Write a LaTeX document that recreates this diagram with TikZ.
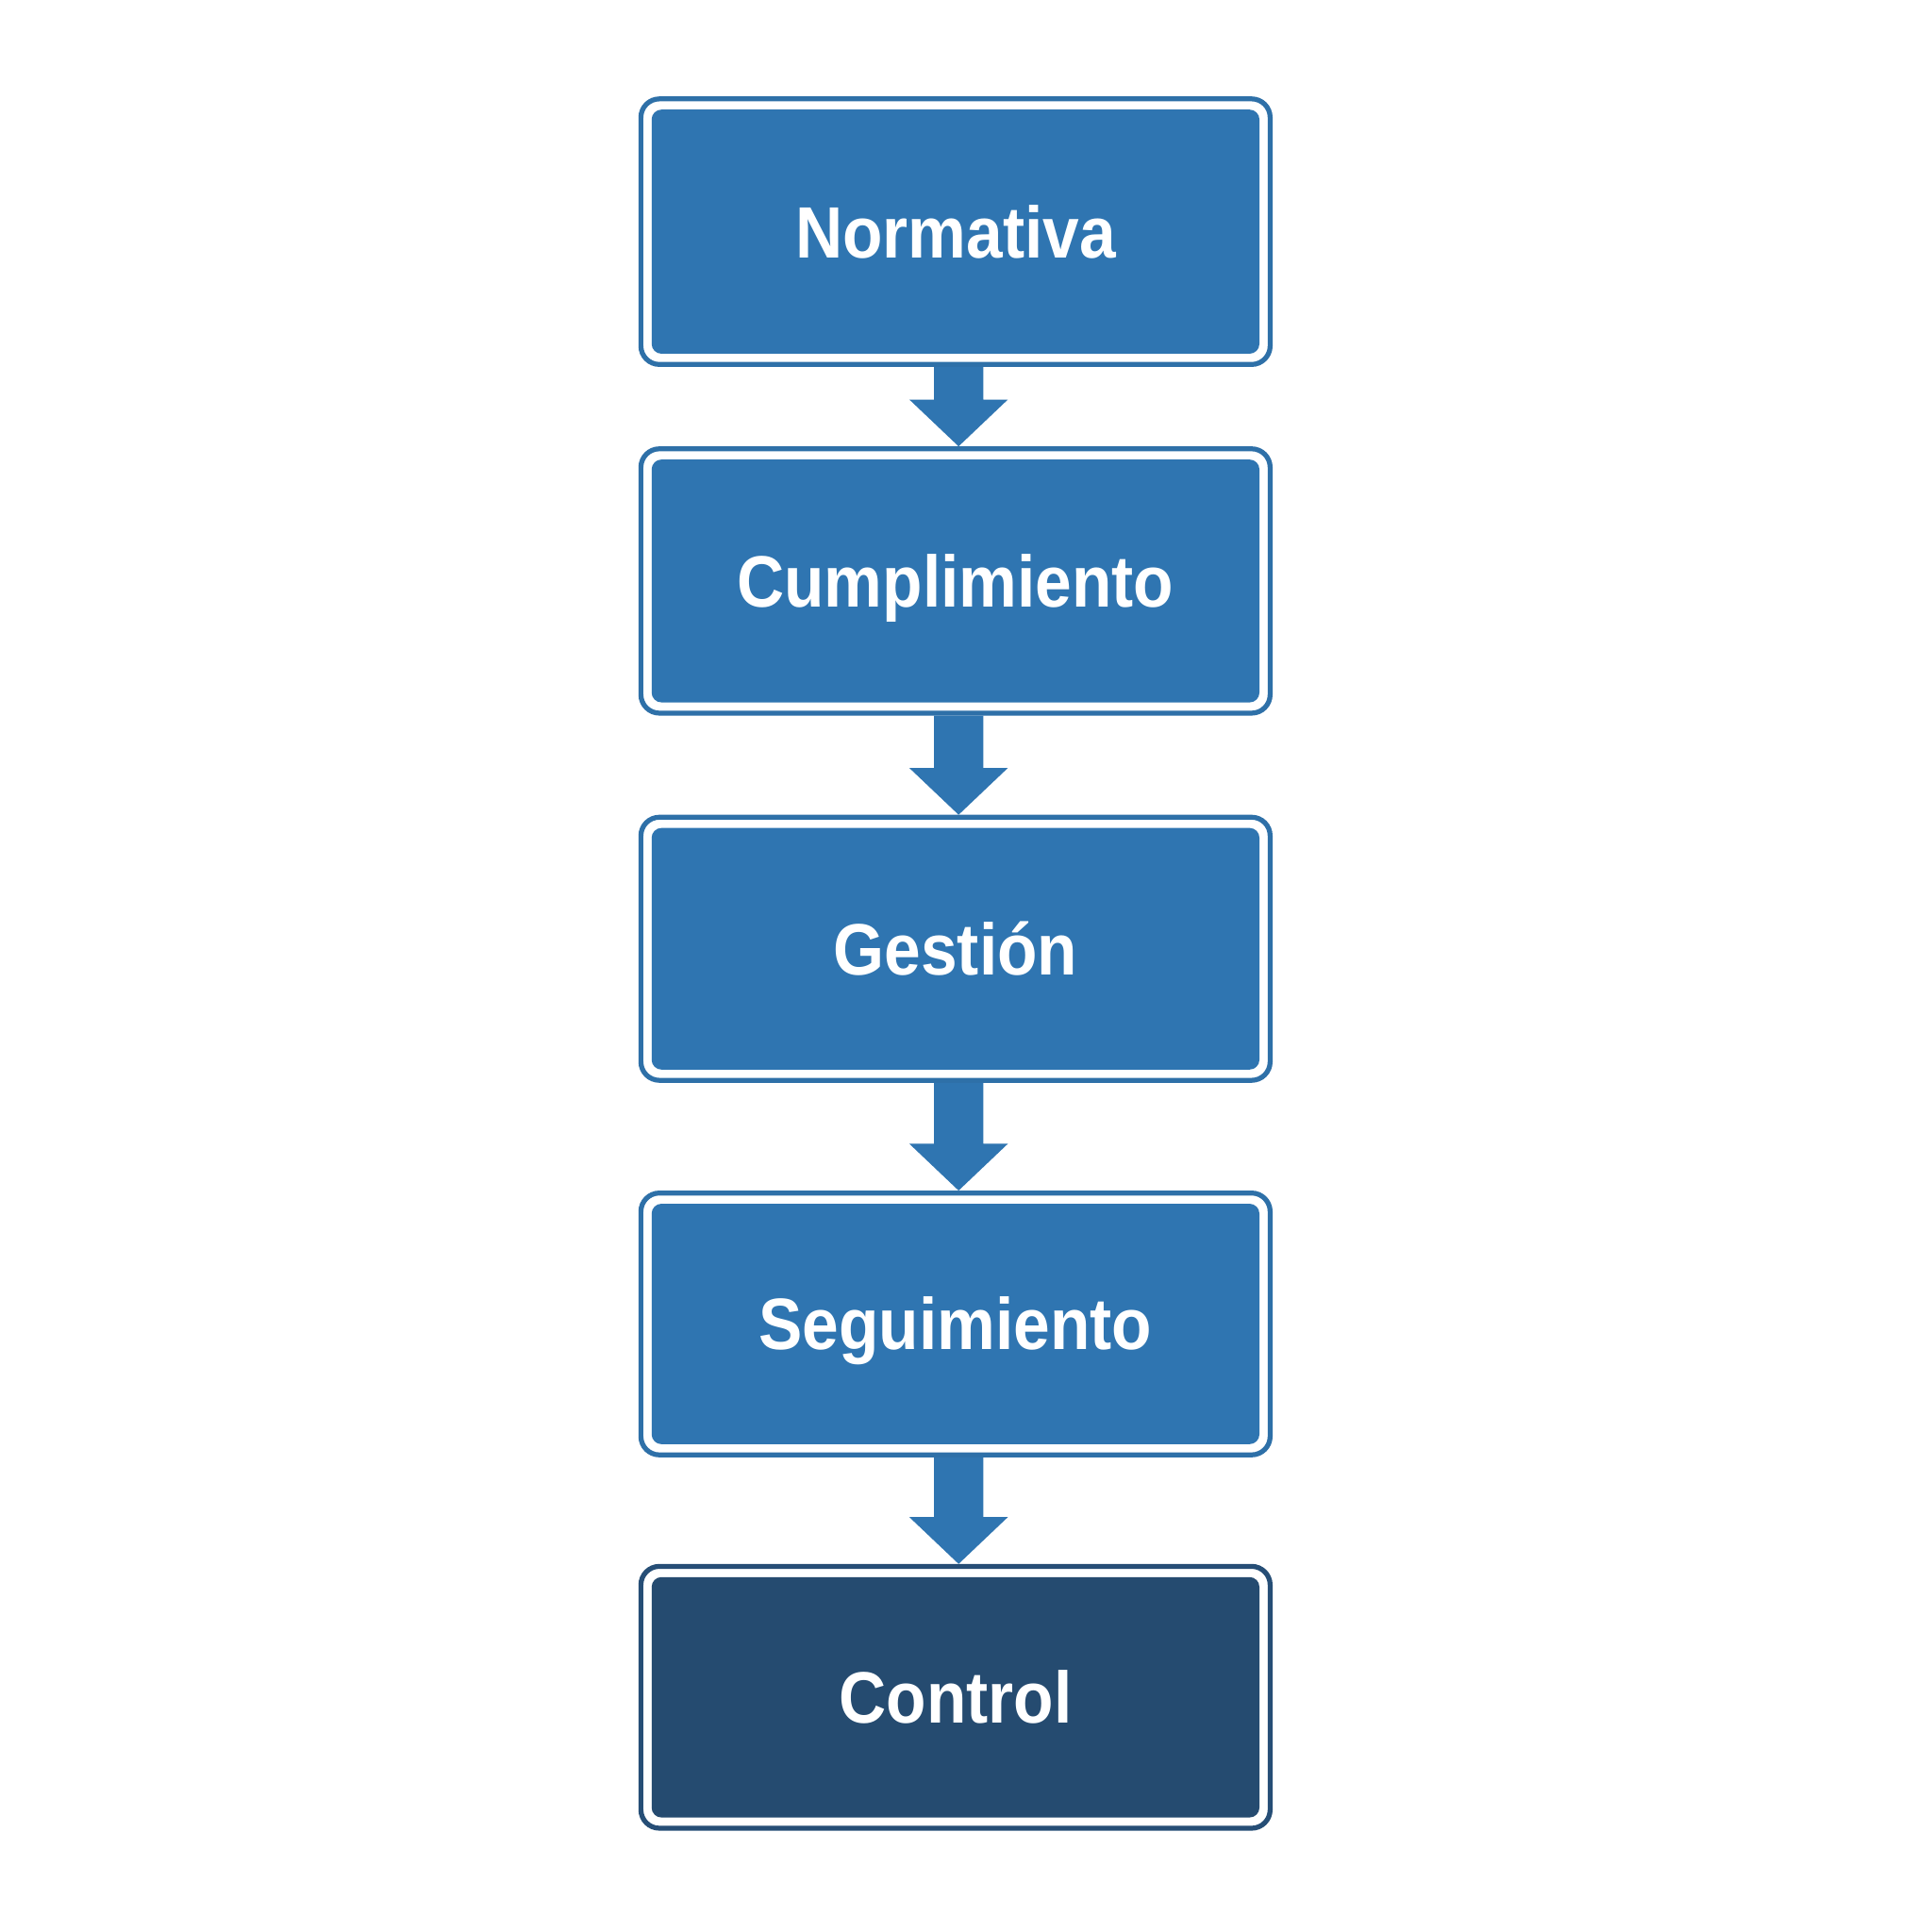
\documentclass[tikz,border=0pt]{standalone}
\usepackage{fontspec}
\setmainfont{Liberation Sans}[FakeStretch=0.9]
\usetikzlibrary{calc}
\definecolor{boxblue}{RGB}{47,117,177}
\definecolor{lineblue}{RGB}{46,112,168}
\definecolor{darkblue}{RGB}{37,75,112}
\definecolor{darkline}{RGB}{38,78,118}
\begin{document}
\begin{tikzpicture}[x=0.01cm,y=-0.01cm,
  stepbox/.style={rectangle, rounded corners=0.08cm, fill=boxblue, text=white,
    minimum width=4.93cm, minimum height=1.96cm, inner sep=0pt,
    text height=0.42cm, text depth=0pt,
    font=\fontsize{16.8}{20}\selectfont\bfseries},
  lastbox/.style={stepbox, fill=darkblue},
  ring/.style={draw=lineblue, line width=0.04cm, rounded corners=0.15cm},
  darkring/.style={ring, draw=darkline},
  flowarrow/.style={fill=boxblue}]
\useasboundingbox (0,0) rectangle (1568,1568);
\fill[white] (0,0) rectangle (1568,1568);

\node[stepbox, minimum height=1.98cm] (n1) at (775.5,188) {Normativa};
\node[stepbox, minimum height=1.97cm] (n2) at (775.5,471.5) {Cumplimiento};
\node[stepbox, minimum height=1.96cm] (n3) at (775.5,770) {Gestión};
\node[stepbox, minimum height=1.95cm] (n4) at (775.5,1074.5) {Seguimiento};
\node[lastbox, minimum height=1.95cm] (n5) at (775.5,1377.5) {Control};

\foreach \n in {n1,n2,n3,n4}{
  \draw[ring] ($(\n.north west)+(-8,-8)$) rectangle ($(\n.south east)+(8,8)$);
}
\draw[darkring] ($(n5.north west)+(-8,-8)$) rectangle ($(n5.south east)+(8,8)$);

\foreach \a/\b in {n1/n2,n2/n3,n3/n4,n4/n5}{
  \coordinate (tip) at ($(\b.north)+(2.5,-10)$);
  \fill[flowarrow] ($(\a.south)+(-17.5,10)$) -- ($(\a.south)+(22.5,10)$)
    -- ($(tip)+(20,-38)$) -- ($(tip)+(40,-38)$) -- (tip)
    -- ($(tip)+(-40,-38)$) -- ($(tip)+(-20,-38)$) -- cycle;
}
\end{tikzpicture}
\end{document}
